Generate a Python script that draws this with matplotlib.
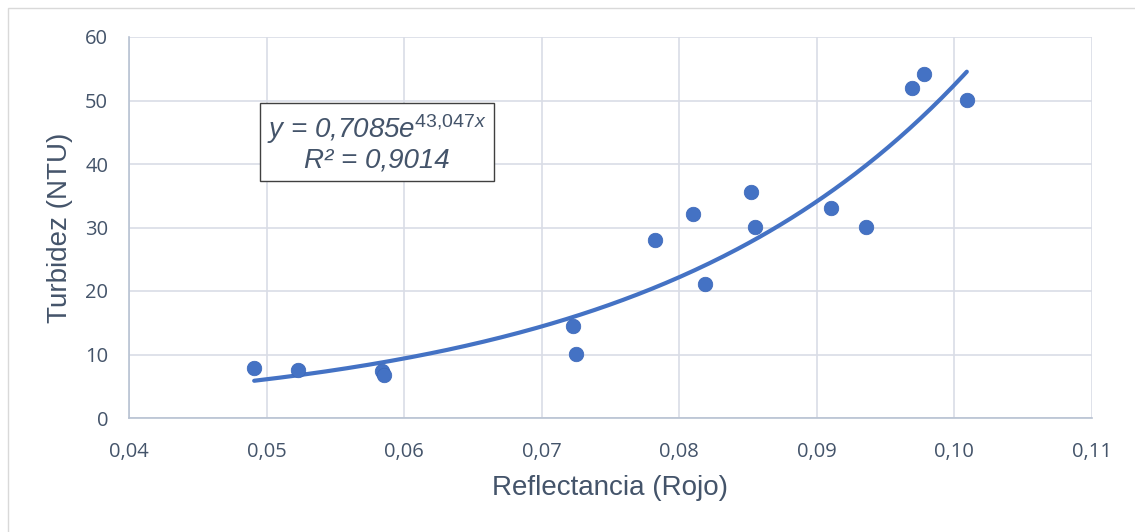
import matplotlib.pyplot as plt
import numpy as np
from matplotlib.ticker import FuncFormatter
from matplotlib.patches import Rectangle

plt.rcParams['mathtext.fontset'] = 'custom'
plt.rcParams['mathtext.rm'] = 'Liberation Sans'
plt.rcParams['mathtext.it'] = 'Liberation Sans:italic'

# reflectancia (rojo) vs turbidez (NTU)
reflectancia = [0.0491, 0.0523, 0.0584, 0.0585, 0.0723, 0.0725, 0.0782, 0.0810,
                0.0819, 0.0852, 0.0855, 0.0910, 0.0936, 0.0969, 0.0978, 0.1009]
turbidez = [7.9, 7.6, 7.4, 6.8, 14.5, 10.1, 28.0, 32.1,
            21.1, 35.6, 30.1, 33.1, 30.1, 52.0, 54.1, 50.1]

# exponential trendline parameters
a_coef = 0.7085
b_coef = 43.047
r2 = 0.9014

x_ticks = [0.04, 0.05, 0.06, 0.07, 0.08, 0.09, 0.10, 0.11]
y_ticks = [0, 10, 20, 30, 40, 50, 60]

blue = '#4472c4'
txt = '#44546a'
grid_c = '#d9dde6'

fig = plt.figure(figsize=(11.35, 5.32), dpi=100)
fig.patches.append(Rectangle((8 / 1135, -0.01), 1.0, 1 - 8 / 532 + 0.01,
                             transform=fig.transFigure, fill=False,
                             edgecolor='#d9d9d9', linewidth=1.0))
ax = fig.add_axes([129 / 1135, 1 - 418 / 532, (1092 - 129) / 1135, (418 - 37) / 532])

ax.set_xlim(0.04, 0.11)
ax.set_ylim(0, 60)
ax.set_xticks(x_ticks)
ax.set_yticks(y_ticks)
ax.xaxis.set_major_formatter(FuncFormatter(lambda v, p: '{0:.2f}'.format(v).replace('.', ',')))
ax.grid(True, color=grid_c, linewidth=1.2)
ax.set_axisbelow(True)
for s in ['top', 'right']:
    ax.spines[s].set_visible(False)
for s in ['left', 'bottom']:
    ax.spines[s].set_color('#b8c2d2')
    ax.spines[s].set_linewidth(1.2)
ax.tick_params(length=0, pad=15, labelsize=14.5, labelcolor=txt)
ax.tick_params(axis='x', pad=17)
for lab in ax.get_xticklabels() + ax.get_yticklabels():
    lab.set_fontfamily('Open Sans')

xs = np.linspace(min(reflectancia), max(reflectancia), 200)
ax.plot(xs, a_coef * np.exp(b_coef * xs), color=blue, linewidth=3, solid_capstyle='round', zorder=2)
ax.scatter(reflectancia, turbidez, s=110, color=blue, edgecolors='#3a66b8', linewidths=0.5, zorder=3)

ax.set_xlabel('Reflectancia (Rojo)', fontsize=20, color=txt, family='Liberation Sans')
ax.set_ylabel('Turbidez (NTU)', fontsize=20, color=txt, family='Liberation Sans')
ax.xaxis.label.set_va('center')
ax.yaxis.label.set_va('center')
ax.xaxis.set_label_coords(0.5, -0.185)
ax.yaxis.set_label_coords(-0.0717, 0.5)

eq = 'y = 0,7085e$^{\\mathit{43{,}047x}}$\nR² = 0,9014'
ax.text(0.2575, 0.722, eq, transform=ax.transAxes,
        ha='center', va='center', fontsize=20, color=txt, family='Liberation Sans',
        style='italic', linespacing=1.1,
        bbox=dict(boxstyle='square,pad=0.25', facecolor='white', edgecolor='#404040', linewidth=1))

fig.savefig('out.png', dpi=100)
